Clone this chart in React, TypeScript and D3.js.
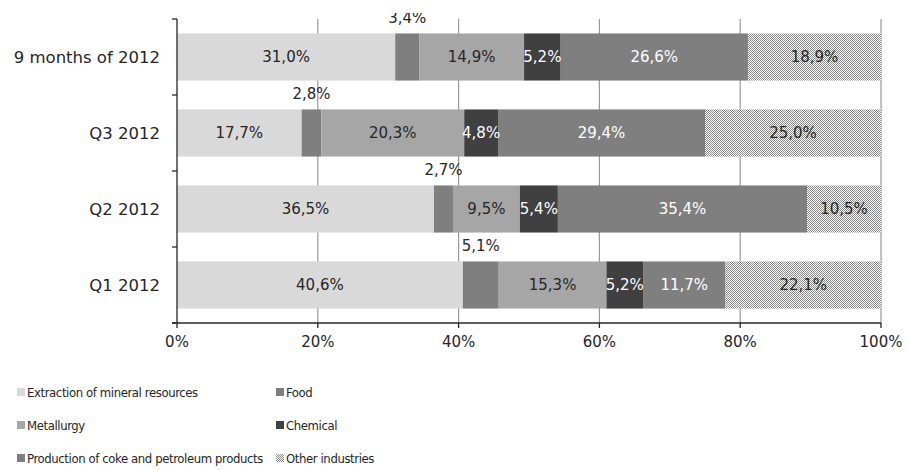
import React from 'react'
import * as d3 from 'd3'

const categories = ['9 months of 2012', 'Q3 2012', 'Q2 2012', 'Q1 2012']
const seriesNames = [
  'Extraction of mineral resources',
  'Food',
  'Metallurgy',
  'Chemical',
  'Production of coke and petroleum products',
  'Other industries',
]
const extraction = [31.0, 17.7, 36.5, 40.6]
const food = [3.4, 2.8, 2.7, 5.1]
const metallurgy = [14.9, 20.3, 9.5, 15.3]
const chemical = [5.2, 4.8, 5.4, 5.2]
const coke = [26.6, 29.4, 35.4, 11.7]
const other = [18.9, 25.0, 10.5, 22.1]
const xTicks = [0, 20, 40, 60, 80, 100]

const fills = ['#d9d9d9', '#7f7f7f', '#a6a6a6', '#404040', '#7f7f7f', 'url(#dots)']
const labelColors = ['#262626', '#262626', '#262626', '#ffffff', '#ffffff', '#262626']

const FONT = '"DejaVu Sans", sans-serif'
const LEGEND_FONT = '"DejaVu Sans Condensed", "DejaVu Sans", sans-serif'

export default function App() {
  const width = 907, height = 470
  const margin = { top: 19, left: 177, right: 26, bottom: 147 }
  const w = width - margin.left - margin.right
  const h = height - margin.top - margin.bottom

  const values = [extraction, food, metallurgy, chemical, coke, other]
  const rows = categories.map((c, i) => {
    const r: any = { cat: c }
    seriesNames.forEach((s, k) => (r[s] = values[k][i]))
    return r
  })
  const stacked = d3.stack().keys(seriesNames)(rows)

  const x = d3.scaleLinear().domain([0, 100]).range([0, w])
  const y = d3.scaleBand().domain(categories).range([0, h]).paddingInner(0.38).paddingOuter(0.19)
  const fmt = (v: number) => v.toFixed(1).replace('.', ',') + '%'

  return (
    <svg width={width} height={height} style={{ position: 'absolute', left: 0, top: 0 }}>
      <defs>
        <pattern id="dots" width="2" height="2" patternUnits="userSpaceOnUse">
          <rect width="2" height="2" fill="#ffffff" />
          <rect width="1" height="1" fill="#8a8a8a" />
          <rect x="1" y="1" width="1" height="1" fill="#8a8a8a" />
        </pattern>
        <clipPath id="clipTop">
          <rect x={-margin.left} y={-6} width={width} height={height} />
        </clipPath>
      </defs>
      <g transform={`translate(${margin.left},${margin.top})`}>
        {xTicks.slice(1).map(t => (
          <line key={t} x1={x(t)} x2={x(t)} y1={0} y2={h} stroke="#9a9a9a" strokeWidth={1.2} />
        ))}
        {stacked.map((s, k) => (
          <g key={s.key}>
            {s.map((d, i) => (
              <rect key={i} x={x(d[0])} y={y(categories[i])} width={x(d[1]) - x(d[0])}
                height={y.bandwidth()} fill={fills[k]} />
            ))}
          </g>
        ))}
        <g clipPath="url(#clipTop)">
          {stacked.map((s, k) => (
            <g key={s.key} fontFamily={FONT} fontSize={15} textAnchor="middle">
              {s.map((d, i) => {
                const cx = x((d[0] + d[1]) / 2)
                const cy = k === 1 ? (y(categories[i]) as number) - 16 : (y(categories[i]) as number) + y.bandwidth() / 2
                return (
                  <text key={i} x={cx} y={cy} dy="0.36em" fill={labelColors[k]}>
                    {fmt(values[k][i])}
                  </text>
                )
              })}
            </g>
          ))}
        </g>
        <line x1={0} x2={0} y1={0} y2={h} stroke="#262626" strokeWidth={1.3} />
        {d3.range(categories.length + 1).map(i => (
          <line key={i} x1={-5} x2={0} y1={(h / categories.length) * i} y2={(h / categories.length) * i}
            stroke="#262626" strokeWidth={1.3} />
        ))}
        <line x1={-5} x2={w} y1={h} y2={h} stroke="#262626" strokeWidth={1.3} />
        {xTicks.map(t => (
          <g key={t} transform={`translate(${x(t)},${h})`}>
            <line y1={0} y2={5} stroke="#262626" strokeWidth={1.3} />
            <text y={19} dy="0.36em" textAnchor="middle" fontFamily={FONT} fontSize={15} fill="#262626">{t}%</text>
          </g>
        ))}
        {categories.map(c => (
          <text key={c} x={-17} y={(y(c) as number) + y.bandwidth() / 2} dy="0.36em" textAnchor="end"
            fontFamily={FONT} fontSize={16.5} fill="#262626">{c}</text>
        ))}
      </g>
      <g fontFamily={LEGEND_FONT} fontSize={13} letterSpacing={-0.4} fill="#262626">
        {seriesNames.map((s, k) => {
          const lx = k % 2 === 0 ? 17 : 276
          const ly = 392 + Math.floor(k / 2) * 33
          return (
            <g key={s}>
              <rect x={lx} y={ly - 4} width={8} height={8} fill={fills[k]} />
              <text x={lx + 10} y={ly} dy="0.36em">{s}</text>
            </g>
          )
        })}
      </g>
    </svg>
  )
}
